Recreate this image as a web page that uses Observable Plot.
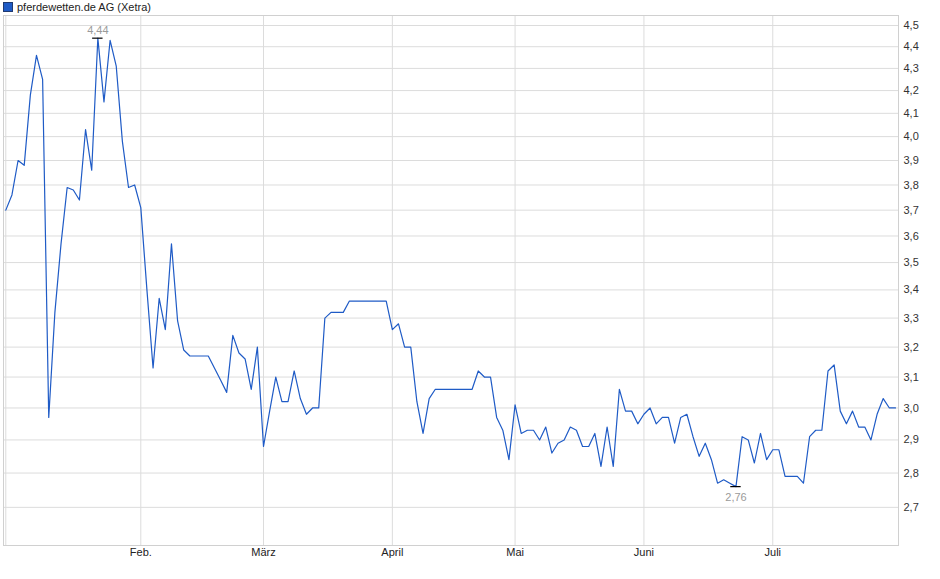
<!DOCTYPE html>
<html>
<head>
<meta charset="utf-8">
<script src="https://cdn.jsdelivr.net/npm/d3@7"></script>
<script src="https://cdn.jsdelivr.net/npm/@observablehq/plot@0.6"></script>
<style>
  html, body { margin: 0; padding: 0; background: #fff; }
  #wrap { position: relative; width: 940px; height: 579px; font-family: "Liberation Sans", Arial, sans-serif; }
  #legend { position: absolute; left: 3px; top: 0px; font-size: 11px; color: #222; display: flex; align-items: center; height: 13px; }
  #legend .sw { width: 8px; height: 8px; background: #1f5bc6; border: 1px solid #203a70; margin-right: 4px; }
  #chart { position: absolute; left: 0; top: 0; }
</style>
</head>
<body>
<div id="wrap">
  <div id="chart"></div>
  <div id="legend"><span class="sw"></span><span>pferdewetten.de AG (Xetra)</span></div>
</div>
<script>
// Daily closing prices (trading-day index)
const prices = [
  3.70, 3.76, 3.90, 3.88, 4.18, 4.36, 4.25, 2.97, 3.32, 3.57,
  3.79, 3.78, 3.74, 4.03, 3.86, 4.44, 4.15, 4.43, 4.31, 3.98,
  3.79, 3.80, 3.71, 3.40, 3.13, 3.37, 3.26, 3.57, 3.29, 3.19,
  3.17, 3.17, 3.17, 3.17, 3.13, 3.09, 3.05, 3.24, 3.18, 3.16,
  3.06, 3.20, 2.88, 2.99, 3.10, 3.02, 3.02, 3.12, 3.03, 2.98,
  3.00, 3.00, 3.30, 3.32, 3.32, 3.32, 3.36, 3.36, 3.36, 3.36,
  3.36, 3.36, 3.36, 3.26, 3.28, 3.20, 3.20, 3.02, 2.92, 3.03,
  3.06, 3.06, 3.06, 3.06, 3.06, 3.06, 3.06, 3.12, 3.10, 3.10,
  2.97, 2.93, 2.84, 3.01, 2.92, 2.93, 2.93, 2.90, 2.94, 2.86,
  2.89, 2.90, 2.94, 2.93, 2.88, 2.88, 2.92, 2.82, 2.94, 2.82,
  3.06, 2.99, 2.99, 2.95, 2.98, 3.00, 2.95, 2.97, 2.97, 2.89,
  2.97, 2.98, 2.91, 2.85, 2.89, 2.84, 2.77, 2.78, 2.77, 2.76,
  2.91, 2.90, 2.83, 2.92, 2.84, 2.87, 2.87, 2.79, 2.79, 2.79,
  2.77, 2.91, 2.93, 2.93, 3.12, 3.14, 2.99, 2.95, 2.99, 2.94,
  2.94, 2.90, 2.98, 3.03, 3.00, 3.00
];
// First trading day of each month (index) and labels
const monthIdx = [0, 22, 42, 63, 83, 104, 125];
const monthLabels = ["", "Feb.", "März", "April", "Mai", "Juni", "Juli"];
// Price axis ticks
const yTicks = [2.7, 2.8, 2.9, 3.0, 3.1, 3.2, 3.3, 3.4, 3.5, 3.6, 3.7, 3.8, 3.9, 4.0, 4.1, 4.2, 4.3, 4.4, 4.5];

const data = prices.map((v, i) => ({i, v}));
const maxI = d3.maxIndex(prices), minI = d3.minIndex(prices);
const maxD = [{i: maxI, v: prices[maxI]}];
const minD = [{i: minI, v: prices[minI]}];
const fmt = v => v.toFixed(2).replace(".", ",");
const lbl = new Map(monthIdx.map((m, k) => [m, monthLabels[k]]));

const chart = Plot.plot({
  width: 940,
  height: 579,
  marginTop: 15,
  marginBottom: 34,
  marginLeft: 3,
  marginRight: 42,
  style: {fontFamily: "'Liberation Sans', Arial, sans-serif", fontSize: "11px", color: "#333", background: "transparent"},
  x: {domain: [-0.375, 145.49]},
  y: {type: "log", domain: [2.593, 4.548]},
  marks: [
    Plot.ruleY(yTicks, {stroke: "#dcdcdc", strokeWidth: 1}),
    Plot.ruleX(monthIdx, {stroke: "#dcdcdc", strokeWidth: 1}),
    Plot.frame({stroke: "#d0d0d0"}),
    Plot.axisY(yTicks, {anchor: "right", tickSize: 0, tickPadding: 5, tickFormat: d => d.toFixed(1).replace(".", ","), fill: "#333", label: null}),
    Plot.axisX(monthIdx, {anchor: "bottom", tickSize: 0, tickPadding: 3, tickFormat: d => lbl.get(d), fill: "#222", label: null}),
    Plot.line(data, {x: "i", y: "v", stroke: "#1f5bc6", strokeWidth: 1.2}),
    Plot.ruleY(maxD, {y: "v", x1: d => d.i - 0.85, x2: d => d.i + 0.85, stroke: "#000", strokeWidth: 1.2}),
    Plot.ruleY(minD, {y: "v", x1: d => d.i - 0.85, x2: d => d.i + 0.85, stroke: "#000", strokeWidth: 1.2}),
    Plot.text(maxD, {x: "i", y: "v", text: d => fmt(d.v), dy: -8, fill: "#9a9a9a", fontSize: 11}),
    Plot.text(minD, {x: "i", y: "v", text: d => fmt(d.v), dy: 11, fill: "#9a9a9a", fontSize: 11})
  ]
});
document.getElementById("chart").appendChild(chart);
</script>
</body>
</html>
